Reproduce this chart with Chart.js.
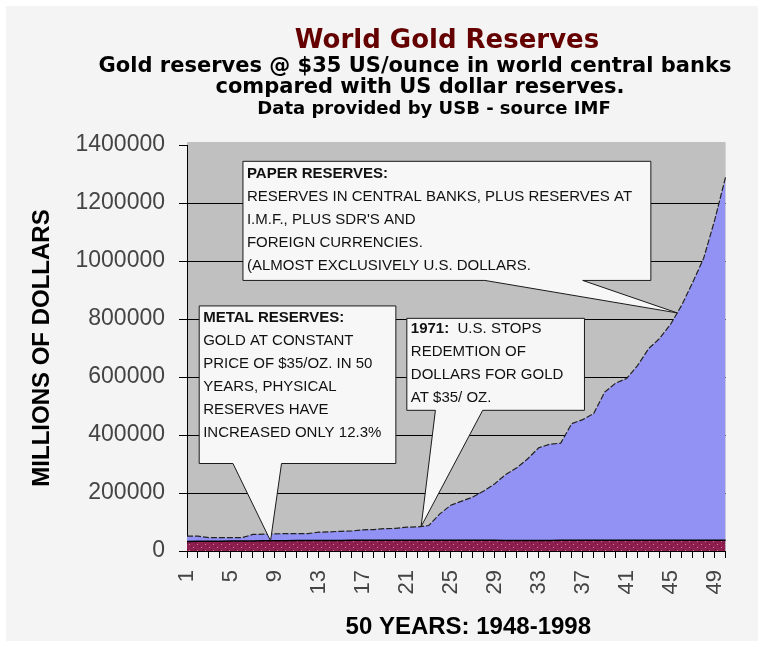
<!DOCTYPE html>
<html>
<head>
<meta charset="utf-8">
<title>World Gold Reserves</title>
<script src="https://cdn.jsdelivr.net/npm/chart.js@4.4.0/dist/chart.umd.min.js"></script>
<style>
    html, body { margin: 0; padding: 0; background: #ffffff; }
    #grafico { display: block; }
</style>
</head>
<body>
<canvas id="grafico" width="764" height="647"></canvas>
<script>
// Anos 1..50 (1948-1998)
const anos = ['1', '2', '3', '4', '5', '6', '7', '8', '9', '10',
    '11', '12', '13', '14', '15', '16', '17', '18', '19', '20',
    '21', '22', '23', '24', '25', '26', '27', '28', '29', '30',
    '31', '32', '33', '34', '35', '36', '37', '38', '39', '40',
    '41', '42', '43', '44', '45', '46', '47', '48', '49', '50'];

// rótulos que aparecem no eixo X
const rotulosX = ['1', '5', '9', '13', '17', '21', '25', '29', '33', '37', '41', '45', '49'];

// marcas do eixo Y
const marcasY = [0, 200000, 400000, 600000, 800000, 1000000, 1200000, 1400000];

// reservas em papel (total), milhões de dólares
const reservasPapel = [51000, 51000, 46000, 46000, 46000, 46000, 57000, 58000, 59000, 60000,
    60000, 60000, 65000, 66000, 68000, 69000, 73000, 74000, 77000, 78000,
    82000, 83000, 88000, 128000, 158000, 172000, 186000, 207000, 232000, 264000,
    287000, 318000, 356000, 368000, 372000, 439000, 453000, 474000, 548000, 579000,
    595000, 640000, 698000, 733000, 782000, 847000, 926000, 1009000, 1140000, 1290000];

// reservas em metal (ouro a $35/oz)
const reservasMetal = [33000, 33500, 33800, 34000, 34200, 34500, 34800, 35000, 35200, 35500,
    35800, 36000, 36200, 36400, 36500, 36700, 36800, 37000, 37200, 37400,
    37500, 37400, 37300, 37200, 37100, 37000, 36900, 36800, 36700, 36600,
    36600, 36500, 36500, 36600, 36700, 36800, 36900, 37000, 37100, 37200,
    37300, 37300, 37200, 37100, 37000, 37000, 37000, 37000, 37000, 37060];

const titulo = 'World Gold Reserves';
const subtitulo = ['Gold reserves @ $35 US/ounce in world central banks', 'compared with US dollar reserves.'];
const fonte = 'Data provided by USB - source IMF';
const tituloX = '50 YEARS: 1948-1998';
const tituloY = 'MILLIONS OF DOLLARS';

// caixas de comentário (posição em índice de categoria e valor)
const notas = [
    {
        x0: 5.09, x1: 42.2, y0: 1343700, y1: 933000, base: [27.1, 36.0],
        serie: reservasPapel, ponta: 44.6, topo: 13,
        linhas: [[['PAPER RESERVES:', true]],
            [['RESERVES IN CENTRAL BANKS, PLUS RESERVES AT', false]],
            [['I.M.F., PLUS SDR\'S AND', false]],
            [['FOREIGN CURRENCIES.', false]],
            [['(ALMOST EXCLUSIVELY U.S. DOLLARS.', false]]]
    },
    {
        x0: 1.11, x1: 19.0, y0: 845000, y1: 301700, base: [4.18, 8.6],
        serie: reservasMetal, ponta: 7.6, topo: 12,
        linhas: [[['METAL RESERVES:', true]],
            [['GOLD AT CONSTANT', false]],
            [['PRICE OF $35/OZ. IN 50', false]],
            [['YEARS, PHYSICAL', false]],
            [['RESERVES HAVE', false]],
            [['INCREASED ONLY 12.3%', false]]]
    },
    {
        x0: 20.0, x1: 36.16, y0: 802300, y1: 485100, base: [22.6, 26.9],
        serie: reservasPapel, ponta: 21.3, topo: 11,
        linhas: [[['1971:', true], ['  U.S. STOPS', false]],
            [['REDEMTION OF', false]],
            [['DOLLARS FOR GOLD', false]],
            [['AT $35/ OZ.', false]]]
    }
];

function valorEm(serie, idx) {
    const i = Math.floor(idx);
    const f = idx - i;
    if (i >= serie.length - 1) return serie[serie.length - 1];
    return serie[i] + (serie[i + 1] - serie[i]) * f;
}

// textura pontilhada do ouro
function padraoMetal(ctx) {
    const c = document.createElement('canvas');
    c.width = 8;
    c.height = 6;
    const g = c.getContext('2d');
    g.fillStyle = '#8e1f4f';
    g.fillRect(0, 0, 8, 6);
    g.fillStyle = '#d07aa0';
    g.fillRect(1, 1, 1, 1);
    g.fillRect(5, 4, 1, 1);
    g.fillStyle = '#6c1240';
    g.fillRect(3, 3, 1, 1);
    g.fillRect(7, 0, 1, 1);
    return ctx.createPattern(c, 'repeat');
}

const fundo = {
    id: 'fundo',
    beforeDraw(chart) {
        const { ctx, chartArea: a } = chart;
        ctx.save();
        ctx.fillStyle = '#f4f4f4';
        ctx.fillRect(6, 6, chart.width - 12, chart.height - 12);
        ctx.fillStyle = '#c0c0c0';
        ctx.fillRect(a.left, a.top - 3, a.right - a.left, a.bottom - a.top + 3);
        ctx.restore();
    }
};

const comentarios = {
    id: 'comentarios',
    afterDatasetsDraw(chart) {
        const { ctx } = chart;
        const sx = chart.scales.x;
        const sy = chart.scales.y;
        ctx.save();
        notas.forEach(n => {
            const l = sx.getPixelForValue(n.x0);
            const r = sx.getPixelForValue(n.x1);
            const t = sy.getPixelForValue(n.y0);
            const b = sy.getPixelForValue(n.y1);
            const b0 = sx.getPixelForValue(n.base[0]);
            const b1 = sx.getPixelForValue(n.base[1]);
            const px = sx.getPixelForValue(n.ponta);
            const py = sy.getPixelForValue(valorEm(n.serie, n.ponta));

            ctx.beginPath();
            ctx.moveTo(l, t);
            ctx.lineTo(r, t);
            ctx.lineTo(r, b);
            ctx.lineTo(b1, b);
            ctx.lineTo(px, py);
            ctx.lineTo(b0, b);
            ctx.lineTo(l, b);
            ctx.closePath();
            ctx.fillStyle = '#f7f7f7';
            ctx.fill();
            ctx.lineWidth = 1;
            ctx.strokeStyle = '#1a1a1a';
            ctx.stroke();

            ctx.fillStyle = '#111';
            ctx.textBaseline = 'middle';
            ctx.textAlign = 'left';
            n.linhas.forEach((partes, k) => {
                let x = l + 4;
                const y = t + n.topo + k * 23;
                partes.forEach(([txt, negrito]) => {
                    ctx.font = (negrito ? 'bold ' : '') + '15px "Liberation Sans", Arial, sans-serif';
                    ctx.fillText(txt, x, y);
                    x += ctx.measureText(txt).width;
                });
            });
        });
        ctx.restore();
    }
};

const titulos = {
    id: 'titulos',
    afterDraw(chart) {
        const { ctx, chartArea: a } = chart;
        ctx.save();
        ctx.textAlign = 'center';
        ctx.textBaseline = 'alphabetic';
        ctx.fillStyle = '#640000';
        ctx.font = 'bold 26px "DejaVu Sans", Verdana, sans-serif';
        ctx.fillText(titulo, 447, 48);
        ctx.fillStyle = '#000';
        ctx.font = 'bold 21px "DejaVu Sans", Verdana, sans-serif';
        ctx.fillText(subtitulo[0], 415, 72);
        ctx.fillText(subtitulo[1], 420, 93);
        ctx.font = 'bold 18px "DejaVu Sans", Verdana, sans-serif';
        ctx.fillText(fonte, 434, 114);
        ctx.font = 'bold 24px "Liberation Sans", Arial, sans-serif';
        ctx.fillText(tituloX, (a.left + a.right) / 2 + 12, 634);
        ctx.restore();
    }
};

document.addEventListener('DOMContentLoaded', function () {
    const ctx = document.getElementById('grafico').getContext('2d');
    new Chart(ctx, {
        type: 'line',
        data: {
            labels: anos,
            datasets: [{
                label: 'Metal reserves',
                data: reservasMetal,
                backgroundColor: padraoMetal(ctx),
                borderColor: '#000',
                borderWidth: 1.5,
                fill: 'origin',
                pointRadius: 0,
                tension: 0
            }, {
                label: 'Paper reserves',
                data: reservasPapel,
                backgroundColor: '#9292f4',
                borderColor: '#222',
                borderWidth: 1.2,
                borderDash: [6, 2],
                fill: 'origin',
                pointRadius: 0,
                tension: 0
            }]
        },
        options: {
            responsive: false,
            animation: false,
            devicePixelRatio: 1,
            layout: { padding: { left: 0, top: 145, right: 35, bottom: 0 } },
            plugins: {
                legend: { display: false },
                tooltip: { enabled: false },
                title: { display: false }
            },
            scales: {
                x: {
                    offset: false,
                    afterFit: s => { s.height = 96; },
                    border: { display: true, color: '#000', width: 1 },
                    grid: {
                        display: true,
                        drawOnChartArea: false,
                        drawTicks: true,
                        tickLength: 7,
                        tickColor: '#000'
                    },
                    ticks: {
                        autoSkip: false,
                        minRotation: 90,
                        maxRotation: 90,
                        padding: 12,
                        color: '#444',
                        font: { family: '"Liberation Sans", Arial, sans-serif', size: 22 },
                        callback: (v, i) => rotulosX.includes(anos[i]) ? anos[i] : ''
                    }
                },
                y: {
                    min: marcasY[0],
                    max: marcasY[marcasY.length - 1],
                    afterFit: s => { s.width = 187; },
                    afterBuildTicks: s => { s.ticks = marcasY.map(v => ({ value: v })); },
                    border: { display: true, color: '#000', width: 1 },
                    grid: {
                        color: c => c.tick && c.tick.value === marcasY[marcasY.length - 1] ? 'rgba(0,0,0,0)' : '#000',
                        tickColor: '#000',
                        tickLength: 8
                    },
                    ticks: {
                        padding: 14,
                        color: '#444',
                        font: { family: '"Liberation Sans", Arial, sans-serif', size: 23 },
                        callback: v => String(v)
                    },
                    title: {
                        display: true,
                        text: tituloY,
                        color: '#000',
                        padding: { top: 28, bottom: 0 },
                        font: { family: '"Liberation Sans", Arial, sans-serif', size: 24, weight: 'bold' }
                    }
                }
            }
        },
        plugins: [fundo, comentarios, titulos]
    });
});
</script>
</body>
</html>
